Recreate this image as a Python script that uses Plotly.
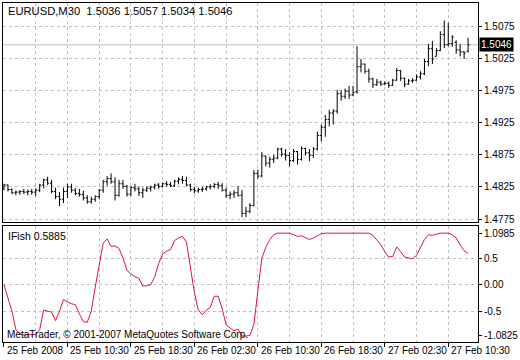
import plotly.graph_objects as go

# ---------------- data ----------------
bar_index = list(range(118))

opens = [1.4822, 1.4828, 1.4821, 1.4816, 1.4817, 1.4818, 1.4817, 1.4818, 1.4817, 1.4820,
         1.4828, 1.4836, 1.4831, 1.4818, 1.4810, 1.4806, 1.4818, 1.4825, 1.4820, 1.4815,
         1.4813, 1.4808, 1.4802, 1.4806, 1.4810, 1.4820, 1.4833, 1.4838, 1.4833, 1.4812,
         1.4830, 1.4826, 1.4814, 1.4824, 1.4822, 1.4816, 1.4820, 1.4823, 1.4825, 1.4828,
         1.4826, 1.4830, 1.4829, 1.4827, 1.4834, 1.4837, 1.4835, 1.4828, 1.4821, 1.4819,
         1.4821, 1.4822, 1.4825, 1.4826, 1.4829, 1.4827, 1.4820, 1.4812, 1.4814, 1.4816,
         1.4812, 1.4784, 1.4787, 1.4796, 1.4846, 1.4842, 1.4873, 1.4862, 1.4868, 1.4870,
         1.4884, 1.4876, 1.4874, 1.4866, 1.4880, 1.4868, 1.4885, 1.4878, 1.4874, 1.4884,
         1.4905, 1.4918, 1.4930, 1.4940, 1.4943, 1.4970, 1.4966, 1.4974, 1.4968, 1.4973,
         1.5012, 1.5016, 1.5005, 1.4993, 1.4984, 1.4988, 1.4985, 1.4986, 1.4983, 1.4991,
         1.5006, 1.4994, 1.4985, 1.4990, 1.4991, 1.4996, 1.5001, 1.5020, 1.5040, 1.5028,
         1.5037, 1.5062, 1.5046, 1.5048, 1.5050, 1.5038, 1.5035, 1.5036]

highs = [1.4830, 1.4829, 1.4823, 1.4820, 1.4820, 1.4822, 1.4821, 1.4822, 1.4823, 1.4830,
         1.4838, 1.4841, 1.4836, 1.4824, 1.4817, 1.4824, 1.4830, 1.4830, 1.4823, 1.4822,
         1.4819, 1.4812, 1.4810, 1.4812, 1.4822, 1.4836, 1.4842, 1.4846, 1.4840, 1.4836,
         1.4836, 1.4828, 1.4826, 1.4830, 1.4826, 1.4824, 1.4826, 1.4827, 1.4830, 1.4831,
         1.4832, 1.4834, 1.4833, 1.4836, 1.4840, 1.4842, 1.4841, 1.4830, 1.4825, 1.4824,
         1.4825, 1.4827, 1.4829, 1.4831, 1.4833, 1.4831, 1.4824, 1.4818, 1.4820, 1.4826,
         1.4820, 1.4794, 1.4800, 1.4851, 1.4852, 1.4879, 1.4874, 1.4872, 1.4875, 1.4886,
         1.4886, 1.4884, 1.4879, 1.4884, 1.4881, 1.4888, 1.4886, 1.4884, 1.4887, 1.4911,
         1.4922, 1.4937, 1.4945, 1.4946, 1.4976, 1.4975, 1.4978, 1.4982, 1.4982, 1.5044,
         1.5024, 1.5017, 1.5009, 1.4995, 1.4993, 1.4990, 1.4989, 1.4989, 1.4993, 1.5010,
         1.5007, 1.4995, 1.4993, 1.4994, 1.5000, 1.5005, 1.5024, 1.5047, 1.5052, 1.5041,
         1.5067, 1.5084, 1.5080, 1.5061, 1.5053, 1.5047, 1.5036, 1.5057]

lows = [1.4820, 1.4818, 1.4814, 1.4812, 1.4813, 1.4814, 1.4812, 1.4813, 1.4811, 1.4817,
        1.4823, 1.4828, 1.4815, 1.4806, 1.4795, 1.4800, 1.4808, 1.4816, 1.4812, 1.4810,
        1.4804, 1.4799, 1.4799, 1.4802, 1.4806, 1.4816, 1.4827, 1.4830, 1.4804, 1.4810,
        1.4822, 1.4810, 1.4811, 1.4818, 1.4811, 1.4808, 1.4817, 1.4818, 1.4821, 1.4822,
        1.4824, 1.4826, 1.4825, 1.4825, 1.4829, 1.4830, 1.4826, 1.4818, 1.4815, 1.4816,
        1.4817, 1.4819, 1.4821, 1.4823, 1.4822, 1.4818, 1.4808, 1.4806, 1.4808, 1.4810,
        1.4778, 1.4778, 1.4784, 1.4795, 1.4838, 1.4840, 1.4857, 1.4855, 1.4862, 1.4868,
        1.4872, 1.4866, 1.4857, 1.4864, 1.4860, 1.4866, 1.4874, 1.4865, 1.4870, 1.4882,
        1.4896, 1.4903, 1.4919, 1.4922, 1.4939, 1.4959, 1.4962, 1.4962, 1.4966, 1.4970,
        1.5003, 1.5001, 1.4987, 1.4979, 1.4982, 1.4982, 1.4983, 1.4979, 1.4982, 1.4990,
        1.4990, 1.4980, 1.4984, 1.4987, 1.4990, 1.4992, 1.4999, 1.5013, 1.5016, 1.5028,
        1.5036, 1.5041, 1.5044, 1.5043, 1.5032, 1.5028, 1.5024, 1.5034]

closes = [1.4828, 1.4821, 1.4816, 1.4817, 1.4818, 1.4817, 1.4818, 1.4817, 1.4820, 1.4828,
          1.4836, 1.4831, 1.4818, 1.4810, 1.4806, 1.4818, 1.4825, 1.4820, 1.4815, 1.4813,
          1.4808, 1.4802, 1.4806, 1.4810, 1.4820, 1.4833, 1.4838, 1.4833, 1.4812, 1.4830,
          1.4826, 1.4814, 1.4824, 1.4822, 1.4816, 1.4820, 1.4823, 1.4825, 1.4828, 1.4826,
          1.4830, 1.4829, 1.4827, 1.4834, 1.4837, 1.4835, 1.4828, 1.4821, 1.4819, 1.4821,
          1.4822, 1.4825, 1.4826, 1.4829, 1.4827, 1.4820, 1.4812, 1.4814, 1.4816, 1.4812,
          1.4784, 1.4787, 1.4796, 1.4846, 1.4842, 1.4873, 1.4862, 1.4868, 1.4870, 1.4884,
          1.4876, 1.4874, 1.4866, 1.4880, 1.4868, 1.4885, 1.4878, 1.4874, 1.4884, 1.4905,
          1.4918, 1.4930, 1.4940, 1.4943, 1.4970, 1.4966, 1.4974, 1.4968, 1.4972, 1.5012,
          1.5016, 1.5005, 1.4993, 1.4984, 1.4988, 1.4985, 1.4986, 1.4983, 1.4991, 1.5006,
          1.4994, 1.4985, 1.4990, 1.4991, 1.4996, 1.5001, 1.5020, 1.5040, 1.5024, 1.5037,
          1.5062, 1.5046, 1.5048, 1.5058, 1.5038, 1.5035, 1.5033, 1.5046]

ifish = [0.00, -0.24, -0.50, -0.85, -0.93, -0.95, -0.95, -0.95, -0.94, -0.85,
         -0.48, -0.50, -0.52, -0.68, -0.50, -0.28, -0.33, -0.36, -0.38, -0.55,
         -0.70, -0.71, -0.50, -0.05, 0.35, 0.78, 0.86, 0.72, 0.73, 0.68,
         0.50, 0.27, 0.20, 0.15, 0.12, -0.03, -0.02, 0.00, 0.15, 0.40,
         0.58, 0.63, 0.66, 0.83, 0.88, 0.91, 0.80, 0.30, -0.15, -0.48,
         -0.57, -0.48, -0.43, -0.22, -0.22, -0.45, -0.76, -0.82, -0.87, -0.84,
         -0.97, -0.97, -0.96, -0.75, -0.10, 0.50, 0.70, 0.85, 0.94, 0.97,
         0.97, 0.97, 0.97, 0.94, 0.91, 0.92, 0.89, 0.85, 0.88, 0.92,
         0.96, 0.97, 0.97, 0.97, 0.97, 0.97, 0.97, 0.97, 0.97, 0.97,
         0.97, 0.97, 0.97, 0.93, 0.85, 0.75, 0.62, 0.52, 0.53, 0.71,
         0.62, 0.52, 0.50, 0.49, 0.55, 0.70, 0.85, 0.94, 0.93, 0.95,
         0.97, 0.97, 0.97, 0.94, 0.88, 0.75, 0.64, 0.5885]

price_ticks = [1.5075, 1.5025, 1.4975, 1.4925, 1.4875, 1.4825, 1.4775]
price_tick_text = ["1.5075", "1.5025", "1.4975", "1.4925", "1.4875", "1.4825", "1.4775"]
current_price = 1.5046

ifish_tick_pos = [0.961, 0.5, 0.0, -0.5, -0.951]
ifish_tick_text = ["1.0985", "0.5", "0.00", "-0.5", "-1.0825"]
ifish_grid = [0.5, 0.0, -0.5]

time_tick_bars = [0, 16, 32, 48, 64, 80, 96, 112]
time_tick_labels = ["25 Feb 2008", "25 Feb 10:30", "25 Feb 18:30", "26 Feb 02:30",
                    "26 Feb 10:30", "26 Feb 18:30", "27 Feb 02:30", "27 Feb 10:30"]
grid_bars = [0, 8, 16, 24, 32, 40, 48, 56, 64, 72, 80, 88, 96, 104, 112]
minor_grid_bars = [8, 24, 40, 56, 72, 88, 104]

header_text = "EURUSD,M30  1.5036 1.5057 1.5034 1.5046"
ind_text = "IFish 0.5885"
copyright_text = "MetaTrader, \u00a9 2001-2007 MetaQuotes Software Corp."

# ---------------- figure ----------------
FONT = "Liberation Sans"
GRID = "#c0c0c0"
W, H = 520, 360
ML, MR, MT, MB = 2, 39, 2, 18
PW, PH = W - ML - MR, H - MT - MB


def px_x(px):
    return (px - ML) / PW


def px_y(py):
    return (H - MB - py) / PH


fig = go.Figure()
fig.add_trace(go.Ohlc(
    x=bar_index, open=opens, high=highs, low=lows, close=closes,
    xaxis="x", yaxis="y",
    increasing=dict(line=dict(color="black", width=1)),
    decreasing=dict(line=dict(color="black", width=1)),
    tickwidth=0.4, hoverinfo="skip", showlegend=False))
fig.add_trace(go.Scatter(
    x=bar_index, y=ifish, xaxis="x2", yaxis="y2", mode="lines",
    line=dict(color="#DC143C", width=1), hoverinfo="skip", showlegend=False))

xrange = [-0.25, 119.5]
top_dom = [px_y(222), 1]
bot_dom = [0, px_y(226)]

fig.update_layout(
    width=W, height=H,
    margin=dict(l=ML, r=MR, t=MT, b=MB),
    paper_bgcolor="white", plot_bgcolor="white",
    font=dict(family=FONT, size=10, color="black"),
    showlegend=False,
    xaxis=dict(domain=[0, 1], anchor="y", range=xrange, showline=True, mirror=True,
               linecolor="black", linewidth=1, tickvals=grid_bars, ticks="",
               showticklabels=False, showgrid=True, gridcolor=GRID, griddash="3px,3px",
               zeroline=False, rangeslider=dict(visible=False)),
    yaxis=dict(domain=top_dom, anchor="x", side="right", range=[1.4770, 1.5111],
               tickvals=price_ticks, ticktext=price_tick_text, ticks="outside", ticklen=3,
               tickcolor="black", showline=True, mirror=True, linecolor="black",
               showgrid=True, gridcolor=GRID, griddash="3px,3px", zeroline=False),
    xaxis2=dict(domain=[0, 1], anchor="y2", range=xrange, showline=True, mirror=True,
                linecolor="black", linewidth=1, tickvals=time_tick_bars, ticks="outside",
                ticklen=4, tickcolor="black", showticklabels=False, showgrid=True,
                gridcolor=GRID, griddash="3px,3px", zeroline=False,
                minor=dict(tickvals=minor_grid_bars, showgrid=True, gridcolor=GRID,
                           griddash="3px,3px", ticks="")),
    yaxis2=dict(domain=bot_dom, anchor="x2", side="right", range=[-1.0825, 1.0985],
                tickvals=ifish_tick_pos, ticktext=ifish_tick_text, ticks="outside",
                ticklen=3, tickcolor="black", showline=True, mirror=True,
                linecolor="black", showgrid=False, zeroline=False,
                minor=dict(tickvals=ifish_grid, showgrid=True, gridcolor=GRID,
                           griddash="3px,3px", ticks="")),
)

fig.add_shape(type="line", xref="x domain", x0=0, x1=1, yref="y",
              y0=current_price, y1=current_price, line=dict(color=GRID, width=1),
              layer="below")

ann = []
ann.append(dict(text=header_text, xref="paper", yref="paper", x=px_x(5), y=px_y(10),
                xanchor="left", yanchor="middle", showarrow=False,
                font=dict(size=11.2)))
ann.append(dict(text=ind_text, xref="paper", yref="paper", x=px_x(5), y=px_y(235.5),
                xanchor="left", yanchor="middle", showarrow=False,
                font=dict(size=10.5)))
ann.append(dict(text=copyright_text, xref="paper", yref="paper", x=px_x(4), y=px_y(334),
                xanchor="left", yanchor="middle", showarrow=False))
ann.append(dict(text=f"{current_price:.4f}", xref="paper", yref="y", x=px_x(482),
                y=current_price, xanchor="left", yanchor="middle", showarrow=False,
                bgcolor="black", font=dict(color="white"), borderpad=1))
for b, lab in zip(time_tick_bars, time_tick_labels):
    ann.append(dict(text=lab, xref="x2", yref="paper", x=b, y=px_y(351),
                    xanchor="left", yanchor="middle", showarrow=False, xshift=1))
fig.update_layout(annotations=ann)

fig.write_html("out.html")
